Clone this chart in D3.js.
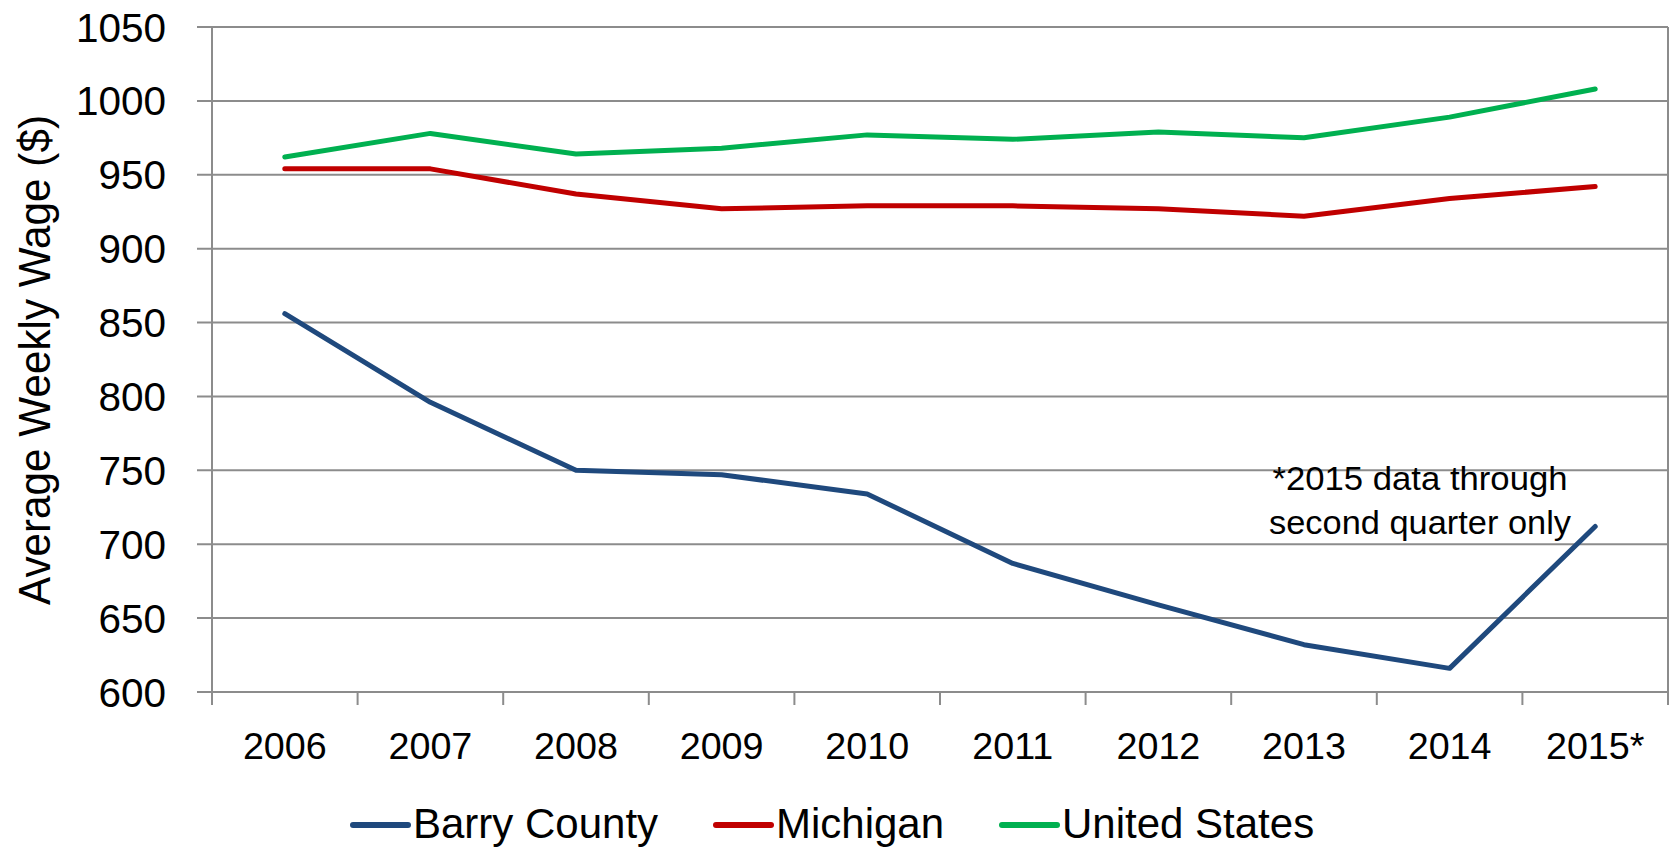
<!DOCTYPE html>
<html>
<head>
<meta charset="utf-8">
<script src="https://cdn.jsdelivr.net/npm/d3@7"></script>
<style>
  html, body { margin: 0; padding: 0; background: #ffffff; }
  svg { display: block; font-family: "Liberation Sans", Arial, sans-serif; }
</style>
</head>
<body>
<svg id="chart" width="1673" height="847"></svg>
<script>
// ---- data ----
const years = ["2006", "2007", "2008", "2009", "2010", "2011", "2012", "2013", "2014", "2015*"];
const barryCounty  = [856, 796, 750, 747, 734, 687, 659, 632, 616, 712];
const michigan     = [954, 954, 937, 927, 929, 929, 927, 922, 934, 942];
const unitedStates = [962, 978, 964, 968, 977, 974, 979, 975, 989, 1008];
const yTicks = [600, 650, 700, 750, 800, 850, 900, 950, 1000, 1050];
const seriesNames = ["Barry County", "Michigan", "United States"];
const yTitle = "Average Weekly Wage ($)";
const noteLines = ["*2015 data through", "second quarter only"];

// ---- layout ----
const svg = d3.select("#chart");
const plotLeft = 212, plotRight = 1668, plotTop = 27, plotBottom = 692;
const colors = ["#1f497d", "#c00000", "#00b050"];
const seriesValues = [barryCounty, michigan, unitedStates];

const x = d3.scaleBand().domain(years).range([plotLeft, plotRight]).padding(0);
const y = d3.scaleLinear().domain([600, 1050]).range([plotBottom, plotTop]);

// gridlines
svg.append("g").selectAll("line").data(yTicks).join("line")
  .attr("x1", plotLeft - 15).attr("x2", plotRight)
  .attr("y1", d => y(d)).attr("y2", d => y(d))
  .attr("stroke", "#8c8c8c").attr("stroke-width", 2);

// y axis line
svg.append("line").attr("x1", plotLeft).attr("x2", plotLeft)
  .attr("y1", plotTop).attr("y2", plotBottom + 13)
  .attr("stroke", "#8c8c8c").attr("stroke-width", 2);
// right border
svg.append("line").attr("x1", plotRight).attr("x2", plotRight)
  .attr("y1", plotTop).attr("y2", plotBottom + 13)
  .attr("stroke", "#8c8c8c").attr("stroke-width", 2);

// x ticks at band boundaries
const bounds = years.map(d => x(d)).concat([plotRight]);
svg.append("g").selectAll("line").data(bounds).join("line")
  .attr("x1", d => d).attr("x2", d => d)
  .attr("y1", plotBottom).attr("y2", plotBottom + 13)
  .attr("stroke", "#8c8c8c").attr("stroke-width", 2);

// y tick labels
svg.append("g").selectAll("text").data(yTicks).join("text")
  .attr("x", 166).attr("y", d => y(d) + 14.5)
  .attr("text-anchor", "end")
  .attr("font-size", 40.5).attr("fill", "#000")
  .text(d => d);

// x tick labels
svg.append("g").selectAll("text").data(years).join("text")
  .attr("x", d => x(d) + x.bandwidth() / 2).attr("y", 759)
  .attr("text-anchor", "middle")
  .attr("font-size", 37.7).attr("fill", "#000")
  .text(d => d);

// y title
svg.append("text")
  .attr("transform", "translate(50,360) rotate(-90)")
  .attr("text-anchor", "middle")
  .attr("font-size", 45)
  .attr("textLength", 490).attr("lengthAdjust", "spacingAndGlyphs")
  .attr("fill", "#000")
  .text(yTitle);

// lines
const line = d3.line()
  .x((d, i) => x(years[i]) + x.bandwidth() / 2)
  .y(d => y(d));
svg.append("g").selectAll("path").data(seriesValues).join("path")
  .attr("d", d => line(d))
  .attr("fill", "none")
  .attr("stroke", (d, i) => colors[i])
  .attr("stroke-width", 5)
  .attr("stroke-linejoin", "round")
  .attr("stroke-linecap", "round");

// annotation
svg.append("g").selectAll("text").data(noteLines).join("text")
  .attr("x", 1420).attr("y", (d, i) => 490 + i * 44)
  .attr("text-anchor", "middle")
  .attr("font-size", 33)
  .attr("textLength", (d, i) => i === 0 ? 295 : 302)
  .attr("lengthAdjust", "spacingAndGlyphs")
  .attr("fill", "#000")
  .text(d => d);

// legend
const legendX = [353, 716, 1002];
const leg = svg.append("g").selectAll("g").data(seriesNames).join("g")
  .attr("transform", (d, i) => `translate(${legendX[i]},825)`);
leg.append("line").attr("x1", 0).attr("x2", 55).attr("y1", 0).attr("y2", 0)
  .attr("stroke", (d, i) => colors[i]).attr("stroke-width", 6)
  .attr("stroke-linecap", "round");
leg.append("text").attr("x", 60).attr("y", 13)
  .attr("font-size", 42).attr("fill", "#000")
  .text(d => d);
</script>
</body>
</html>
